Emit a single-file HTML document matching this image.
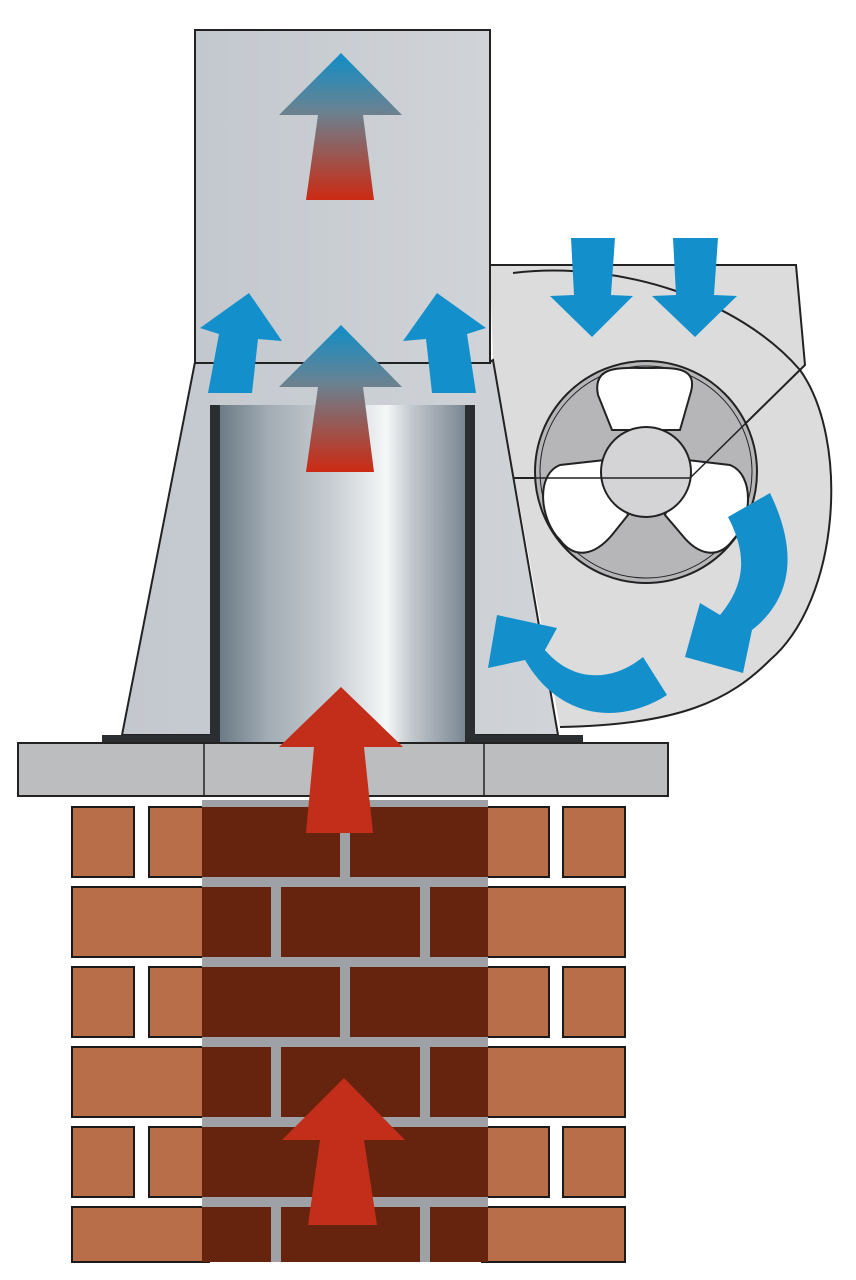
<!DOCTYPE html>
<html><head><meta charset="utf-8"><style>html,body{margin:0;padding:0;background:#fff}svg{display:block}</style></head>
<body>
<svg width="856" height="1280" viewBox="0 0 856 1280" xmlns="http://www.w3.org/2000/svg">
<defs>
<linearGradient id="cyl" x1="0" x2="1" y1="0" y2="0">
<stop offset="0" stop-color="#6c7b86"/><stop offset="0.2" stop-color="#a3adb5"/><stop offset="0.45" stop-color="#c6ccd1"/><stop offset="0.68" stop-color="#f5f7f8"/><stop offset="0.78" stop-color="#c3c9ce"/><stop offset="1" stop-color="#7a8792"/>
</linearGradient>
<linearGradient id="hot" x1="0" x2="0" y1="0" y2="1">
<stop offset="0" stop-color="#0f8ec8"/><stop offset="0.4" stop-color="#6a8290"/><stop offset="1" stop-color="#cc2a12"/>
</linearGradient>
<linearGradient id="box" x1="0" x2="1"><stop offset="0" stop-color="#c3c8ce"/><stop offset="1" stop-color="#d0d4d8"/></linearGradient>
</defs>
<!-- fan housing fill -->
<path d="M490,265 L796,265 L805,365 L690,478 L513,478 L493,360 Z" fill="#dcdcdd"/>
<path d="M513,273 C620,260 740,300 800,370 C850,440 840,600 770,660 C730,700 680,725 560,727 L493,360 L493,273 Z" fill="#dcdcdd"/>
<!-- scroll arc -->
<path d="M513,273 C620,260 740,300 800,370 C850,440 840,600 770,660 C730,700 680,725 560,727" fill="none" stroke="#222" stroke-width="2"/>
<path d="M490,265 L796,265 L805,365 L690,478 M513,478 L690,478" fill="none" stroke="#222" stroke-width="2"/>
<!-- fan -->
<circle cx="646" cy="472" r="111" fill="#b6b6b8" stroke="#222" stroke-width="2"/>
<circle cx="646" cy="472" r="106" fill="none" stroke="#222" stroke-width="1"/>
<path d="M612,430 L598,395 C592,365 620,368 646,368 C672,368 700,365 690,395 L680,430 Z" fill="#fff" stroke="#222" stroke-width="2"/>
<path d="M605,460 L560,465 C535,475 540,520 560,540 C575,560 595,555 612,535 L628,515 Z" fill="#fff" stroke="#222" stroke-width="2"/>
<path d="M687,460 L730,465 C755,475 752,520 733,540 C718,560 698,555 682,535 L665,515 Z" fill="#fff" stroke="#222" stroke-width="2"/>
<circle cx="646" cy="472" r="45" fill="#d4d4d6" stroke="#222" stroke-width="2"/>
<path d="M513,478 L690,478 L805,365" fill="none" stroke="#222" stroke-width="1.5"/>
<!-- trapezoid & top box -->
<path d="M195,362 L490,362 L493,360 L558,735 L122,735 Z" fill="url(#box)" stroke="#222" stroke-width="2"/>
<rect x="195" y="30" width="295" height="333" fill="url(#box)" stroke="#222" stroke-width="2"/>
<!-- base plate -->
<rect x="102" y="735" width="481" height="8" fill="#2a2e30"/>
<!-- cylinder -->
<rect x="210" y="405" width="265" height="338" fill="#2a2e30"/>
<rect x="220" y="405" width="245" height="338" fill="url(#cyl)"/>
<!-- slab -->
<rect x="18" y="743" width="650" height="53" fill="#bcbdbf" stroke="#222" stroke-width="2"/>
<line x1="204" y1="743" x2="204" y2="796" stroke="#222" stroke-width="1.5"/>
<line x1="484" y1="743" x2="484" y2="796" stroke="#222" stroke-width="1.5"/>
<!-- bricks -->
<g fill="#b86e48" stroke="#1a1a1a" stroke-width="2">
<rect x="72" y="807" width="62" height="70"/><rect x="149" y="807" width="60" height="70"/><rect x="482" y="807" width="67" height="70"/><rect x="563" y="807" width="62" height="70"/>
<rect x="72" y="887" width="137" height="70"/><rect x="482" y="887" width="143" height="70"/>
<rect x="72" y="967" width="62" height="70"/><rect x="149" y="967" width="60" height="70"/><rect x="482" y="967" width="67" height="70"/><rect x="563" y="967" width="62" height="70"/>
<rect x="72" y="1047" width="137" height="70"/><rect x="482" y="1047" width="143" height="70"/>
<rect x="72" y="1127" width="62" height="70"/><rect x="149" y="1127" width="60" height="70"/><rect x="482" y="1127" width="67" height="70"/><rect x="563" y="1127" width="62" height="70"/>
<rect x="72" y="1207" width="137" height="55"/><rect x="482" y="1207" width="143" height="55"/>
</g>
<rect x="202" y="800" width="286" height="462" fill="#9ea2a6"/>
<g fill="#66240f">
<rect x="202" y="807" width="138" height="70"/><rect x="350" y="807" width="138" height="70"/>
<rect x="202" y="887" width="69" height="70"/><rect x="281" y="887" width="139" height="70"/><rect x="430" y="887" width="58" height="70"/>
<rect x="202" y="967" width="138" height="70"/><rect x="350" y="967" width="138" height="70"/>
<rect x="202" y="1047" width="69" height="70"/><rect x="281" y="1047" width="139" height="70"/><rect x="430" y="1047" width="58" height="70"/>
<rect x="202" y="1127" width="138" height="70"/><rect x="350" y="1127" width="138" height="70"/>
<rect x="202" y="1207" width="69" height="55"/><rect x="281" y="1207" width="139" height="55"/><rect x="430" y="1207" width="58" height="55"/>
</g>
<!-- red arrows -->
<path d="M341,687 L403,747 L364,747 L373,833 L306,833 L314,747 L279,747 Z" fill="#c22e1a"/>
<path d="M344,1078 L405,1140 L364,1140 L377,1225 L308,1225 L320,1140 L282,1140 Z" fill="#c22e1a"/>
<!-- hot/cold arrows -->
<path d="M341,53 L402,115 L363,115 L374,200 L306,200 L318,115 L279,115 Z" fill="url(#hot)"/>
<path d="M341,325 L402,387 L363,387 L374,472 L306,472 L318,387 L279,387 Z" fill="url(#hot)"/>
<!-- blue arrows -->
<g fill="#1390cc">
<path d="M249,293 L282,341 L258,339 L252,393 L208,393 L219,334 L200,328 Z"/>
<path d="M437,293 L486,328 L467,334 L476,393 L432,393 L426,339 L403,341 Z"/>
<path d="M571,238 L615,238 L611,295 L633,296 L592,337 L550,296 L574,295 Z"/>
<path d="M673,238 L718,238 L714,295 L737,296 L695,337 L652,296 L676,295 Z"/>
<path d="M770,493 C800,555 790,600 752,630 L743,673 L685,657 L700,603 L720,615 C745,585 748,555 728,517 Z"/>
<path d="M667,695 C620,725 560,720 525,660 L488,668 L497,615 L557,628 L545,650 C575,685 615,680 643,657 Z"/>
</g>
</svg>
</body></html>
